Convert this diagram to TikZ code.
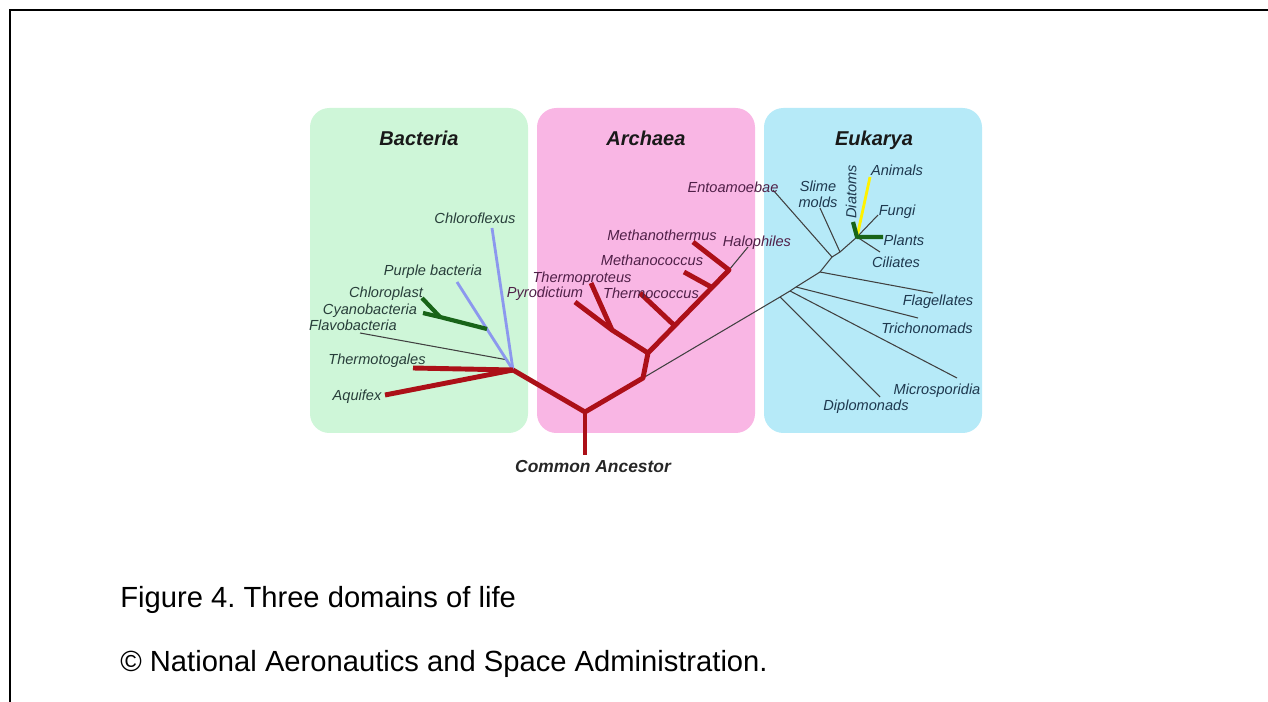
\documentclass[tikz,border=0pt]{standalone}
\usepackage{fontspec}
\setmainfont{Liberation Sans}
\usepackage{tikz}
\usetikzlibrary{arrows,positioning}
\frenchspacing

\definecolor{treered}{RGB}{172,16,24}
\definecolor{lineblue}{RGB}{140,152,238}
\definecolor{darkgreen}{RGB}{24,100,24}
\definecolor{boxgreen}{RGB}{206,246,216}
\definecolor{boxpink}{RGB}{249,182,228}
\definecolor{boxblue}{RGB}{182,234,248}
\definecolor{bactxt}{RGB}{40,62,58}
\definecolor{arctxt}{RGB}{80,32,72}
\definecolor{euktxt}{RGB}{30,56,78}

\begin{document}
\begin{tikzpicture}[x=0.02cm,y=-0.02cm,
	lbl/.style = {font=\itshape\fontsize{8.3}{9}\selectfont, inner sep=0pt, text height=6pt, text depth=0pt},
	ttl/.style = {font=\bfseries\itshape\fontsize{11.4}{12}\selectfont, text=black!90, inner sep=0pt, text height=8.2pt, text depth=0pt},
	capt/.style = {font=\fontsize{16.6}{18}\selectfont, anchor=west, inner sep=0pt},
	redbr/.style = {treered, line width=2.8pt, line join=round},
	bluebr/.style = {lineblue, line width=1.6pt},
	greenbr/.style = {darkgreen, line width=2.4pt, line join=round},
	thinbr/.style = {black!75, line width=0.6pt}
	]
	\useasboundingbox (0,0) rectangle (1268,702);
	%FRAME
	\draw[line width=1.1pt] (10,702) -- (10,10) -- (1268,10);
	%DOMINI
	\fill[boxgreen, rounded corners=11pt] (310,108) rectangle (528,433);
	\fill[boxpink, rounded corners=11pt] (537,108) rectangle (755,433);
	\fill[boxblue, rounded corners=11pt] (764,108) rectangle (982,433);
	\node[ttl] (tbac) at (419,138) {Bacteria};
	\node[ttl] (tarc) at (646,138) {Archaea};
	\node[ttl] (teuk) at (874,138) {Eukarya};
	%NODI DELL'ALBERO
	\coordinate (rb) at (585,455);
	\coordinate (r0) at (585,412);
	\coordinate (bj) at (513,370);
	\coordinate (fj) at (508,360);
	\coordinate (gj) at (487,329);
	\coordinate (gk) at (440,317);
	\coordinate (aj) at (643,378);
	\coordinate (a1) at (648,353);
	\coordinate (c1) at (612,330);
	\coordinate (m3) at (676,327);
	\coordinate (m2) at (713,288);
	\coordinate (a2) at (729,270);
	\coordinate (e1) at (780,297);
	\coordinate (e2) at (790,291);
	\coordinate (e3) at (796,287);
	\coordinate (e4) at (820,272);
	\coordinate (e5) at (832,257);
	\coordinate (e6) at (840,252);
	\coordinate (ec) at (857,237);
	%PUNTE
	\coordinate (aqu) at (385,395);
	\coordinate (tmg) at (413,368);
	\coordinate (flv) at (360,333);
	\coordinate (cya) at (423,313);
	\coordinate (chl) at (422,298);
	\coordinate (pur) at (457,282);
	\coordinate (cfx) at (492,228);
	\coordinate (pyr) at (575,302);
	\coordinate (tpr) at (591,283);
	\coordinate (tcc) at (640,293);
	\coordinate (mcc) at (684,272);
	\coordinate (mth) at (693,242);
	\coordinate (hal) at (748,247);
	\coordinate (ent) at (773,190);
	\coordinate (slm) at (820,208);
	\coordinate (dia) at (853,222);
	\coordinate (ani) at (870,177);
	\coordinate (fun) at (878,215);
	\coordinate (pla) at (883,237);
	\coordinate (cil) at (880,252);
	\coordinate (fla) at (933,293);
	\coordinate (tri) at (918,318);
	\coordinate (mic) at (957,378);
	\coordinate (dip) at (880,397);
	%Bacteria
	\draw[thinbr] (fj) -- (flv);
	\draw[bluebr] (bj) -- (cfx);
	\draw[bluebr] (bj) -- (pur);
	\draw[greenbr] (gj) -- (gk) -- (cya);
	\draw[greenbr] (gk) -- (chl);
	%Eukarya
	\draw[thinbr] (aj) -- (e1) -- (e2) -- (e3) -- (e4) -- (e5) -- (e6) -- (ec);
	\draw[thinbr] (e1) -- (dip);
	\draw[thinbr] (e2) -- (mic);
	\draw[thinbr] (e3) -- (tri);
	\draw[thinbr] (e4) -- (fla);
	\draw[thinbr] (e5) -- (ent);
	\draw[thinbr] (e6) -- (slm);
	\draw[thinbr] (ec) -- (cil);
	\draw[thinbr] (ec) -- (fun);
	\draw[yellow, line width=1.6pt] (ec) -- (ani);
	\draw[greenbr] (dia) -- (ec) -- (pla);
	\draw[thinbr] (a2) -- (hal);
	%RAMI ROSSI
	\draw[redbr] (rb) -- (r0);
	\draw[redbr] (bj) -- (r0) -- (aj) -- (a1) -- (a2) -- (mth);
	\draw[redbr] (aqu) -- (bj);
	\draw[redbr] (tmg) -- (bj);
	\draw[redbr] (a1) -- (c1) -- (pyr);
	\draw[redbr] (c1) -- (tpr);
	\draw[redbr] (m2) -- (mcc);
	\draw[redbr] (m3) -- (tcc);
	%ETICHETTE
	\node[lbl, text=bactxt] (lcfx) at (475,218) {Chloroflexus};
	\node[lbl, text=bactxt] (lpur) at (433,270) {Purple bacteria};
	\node[lbl, text=bactxt] (lchl) at (386,292) {Chloroplast};
	\node[lbl, text=bactxt] (lcya) at (370,309) {Cyanobacteria};
	\node[lbl, text=bactxt] (lflv) at (353,325) {Flavobacteria};
	\node[lbl, text=bactxt] (ltmg) at (377,359) {Thermotogales};
	\node[lbl, text=bactxt] (laqu) at (357,395) {Aquifex};
	\node[lbl, text=arctxt] (lmth) at (662,235) {Methanothermus};
	\node[lbl, text=arctxt] (lhal) at (757,241) {Halophiles};
	\node[lbl, text=arctxt] (lmcc) at (652,260) {Methanococcus};
	\node[lbl, text=arctxt] (ltpr) at (582,277) {Thermoproteus};
	\node[lbl, text=arctxt] (lpyr) at (545,292) {Pyrodictium};
	\node[lbl, text=arctxt] (ltcc) at (651,293) {Thermococcus};
	\node[lbl, text=arctxt] (lent) at (733,187) {Entoamoebae};
	\node[lbl, text=euktxt, align=center, text height=, text depth=] (lslm) at (818,194) {Slime\\molds};
	\node[lbl, text=euktxt, rotate=90] (ldia) at (851,192) {Diatoms};
	\node[lbl, text=euktxt] (lani) at (897,170) {Animals};
	\node[lbl, text=euktxt] (lfun) at (897,210) {Fungi};
	\node[lbl, text=euktxt] (lpla) at (904,240) {Plants};
	\node[lbl, text=euktxt] (lcil) at (896,262) {Ciliates};
	\node[lbl, text=euktxt] (lfla) at (938,300) {Flagellates};
	\node[lbl, text=euktxt] (ltri) at (927,328) {Trichonomads};
	\node[lbl, text=euktxt] (lmic) at (937,389) {Microsporidia};
	\node[lbl, text=euktxt] (ldip) at (866,405) {Diplomonads};
	\node[font=\bfseries\itshape\fontsize{9.9}{11}\selectfont, text=black!85, inner sep=0pt] (lca) at (593,467) {Common Ancestor};
	%DIDASCALIA
	\node[capt] (cap1) at (120,600) {Figure 4. Three domains of life};
	\node[capt] (cap2) at (120,664) {© National Aeronautics and Space Administration.};
\end{tikzpicture}
\end{document}
